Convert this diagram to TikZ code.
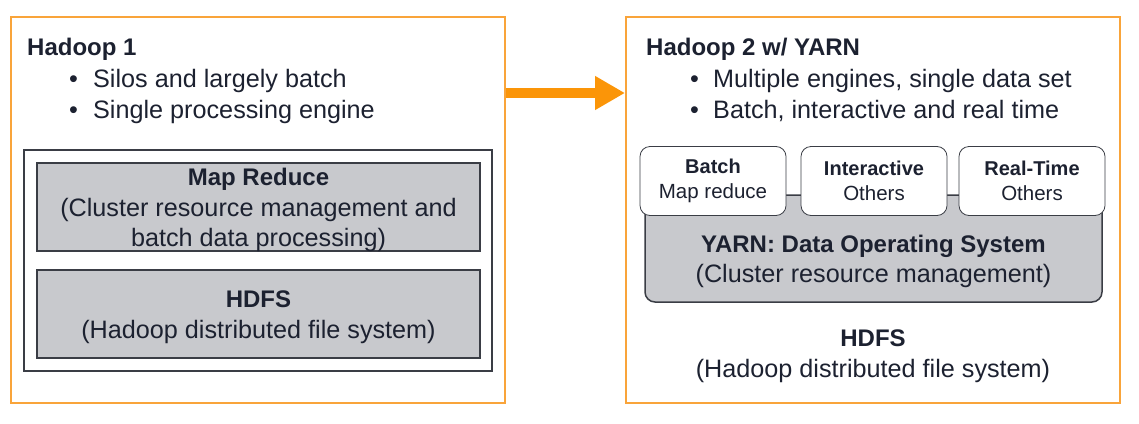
\documentclass[tikz,border=0pt]{standalone}
\usepackage{fontspec}
\setmainfont{Liberation Sans}
\usetikzlibrary{calc}
\usetikzlibrary{arrows.meta}
\definecolor{HOrange}{HTML}{F9A43A}
\definecolor{HArrow}{HTML}{FB9508}
\definecolor{HGray}{HTML}{C8C9CD}
\definecolor{HText}{HTML}{1C2130}
\definecolor{HLine}{HTML}{3A3D45}
\newcommand{\bigtxt}{\fontsize{25.2}{30.5}\selectfont}
\newcommand{\bigbf}{\fontsize{24}{30.5}\selectfont\bfseries}
\newcommand{\smalltxt}{\fontsize{20.5}{25}\selectfont}
\newcommand{\smallbf}{\fontsize{20}{25}\selectfont\bfseries}
\tikzstyle{frame} = [draw=HOrange, line width=2pt, minimum width=494pt, minimum height=386pt, inner sep=0pt]
\tikzstyle{layer} = [draw=HLine, fill=HGray, line width=1.5pt, minimum width=443pt, minimum height=88pt, inner sep=0pt]
\tikzstyle{engine} = [draw=HLine, fill=white, rounded corners=10pt, line width=0.8pt, minimum width=146pt, minimum height=69pt, inner sep=0pt, align=center, font=\smalltxt]
\tikzstyle{caption} = [align=center, font=\bigtxt, inner sep=0pt, yshift=-3pt]
\tikzstyle{txt} = [anchor=base west, inner sep=0pt, font=\bigtxt]

\begin{document}
\begin{tikzpicture}[x=1pt,y=-1pt,every node/.style={text=HText}]
	\useasboundingbox (0,0) rectangle (1139,423);

	% Hadoop 1
	\node[frame] (h1) at (258,210) {};
	\node[txt] (h1title) at (27,55) {\bigbf Hadoop 1};
	\node[txt] (h1a) at (69,87) {\makebox[24pt][l]{\textbullet}Silos and largely batch};
	\node[txt] (h1b) at (69,118) {\makebox[24pt][l]{\textbullet}Single processing engine};
	\node[draw=HLine, line width=1.5pt, minimum width=468pt, minimum height=221pt, inner sep=0pt] (stack) at (258,260.5) {};
	\node[layer] (mapred) at (258.5,207) {};
	\node[caption] (mapredtxt) at (mapred.center) {{\bigbf Map Reduce}\\(Cluster resource management and\\batch data processing)};
	\node[layer] (hdfs1) at (258.5,314) {};
	\node[caption] (hdfs1txt) at (hdfs1.center) {{\bigbf HDFS}\\(Hadoop distributed file system)};

	% Hadoop 2
	\node[frame] (h2) at (873,210) {};
	\node[txt] (h2title) at (646,55) {\bigbf Hadoop 2 w/ YARN};
	\node[txt] (h2a) at (690,87) {\makebox[23pt][l]{\textbullet}Multiple engines, single data set};
	\node[txt] (h2b) at (690,118) {\makebox[23pt][l]{\textbullet}Batch, interactive and real time};
	\node[layer, rounded corners=10pt, minimum width=457pt, minimum height=107pt] (yarn) at (873.5,248.5) {};
	\node[caption] (yarntxt) at (873.5,258.5) {{\bigbf YARN: Data Operating System}\\(Cluster resource management)};
	\node[engine] (batch) at (713,181) {{\smallbf Batch}\\Map reduce};
	\node[engine] (inter) at (874,181) {{\smallbf Interactive}\\Others};
	\node[engine] (realt) at (1032,181) {{\smallbf Real-Time}\\Others};
	\node[caption, yshift=-1pt] (hdfs2) at (873,352) {{\bigbf HDFS}\\(Hadoop distributed file system)};

	% arrow
	\coordinate (lvl) at (0,93);
	\draw[HArrow, line width=10pt, -{Triangle[length=30pt,width=32pt]}] (h1.east |- lvl) -- (h2.west |- lvl);
\end{tikzpicture}
\end{document}
